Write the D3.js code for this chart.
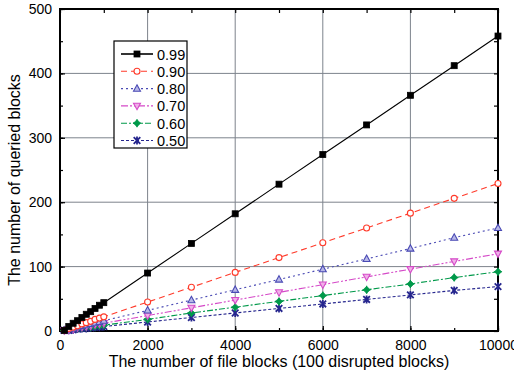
<!DOCTYPE html>
<html>
<head>
<meta charset="utf-8">
<script src="https://cdn.jsdelivr.net/npm/d3@7"></script>
<style>
  body { margin: 0; background: #fff; }
  svg { display: block; font-family: Arial, "Liberation Sans", sans-serif; }
</style>
</head>
<body>
<div id="chart"></div>
<script>
// file blocks (x)
const fileBlocks = [100, 200, 300, 400, 500, 600, 700, 800, 900, 1000,
  2000, 3000, 4000, 5000, 6000, 7000, 8000, 9000, 10000];

// queried blocks per detection probability
const p99 = [1, 7, 12, 16, 21, 26, 30, 35, 40, 44, 90, 136, 182, 228, 274, 320, 366, 412, 458];
const p90 = [1, 4, 6, 8, 11, 13, 15, 18, 20, 22, 45, 68, 91, 114, 137, 160, 183, 206, 229];
const p80 = [1, 3, 4, 6, 8, 9, 11, 13, 14, 16, 32, 48, 64, 80, 96, 112, 128, 145, 160];
const p70 = [1, 2, 3, 5, 6, 7, 8, 10, 11, 12, 24, 36, 48, 60, 72, 84, 96, 108, 120];
const p60 = [1, 2, 3, 4, 5, 6, 6, 7, 8, 9, 18, 28, 37, 46, 55, 64, 73, 83, 92];
const p50 = [1, 1, 2, 3, 4, 4, 5, 6, 6, 7, 14, 21, 28, 35, 42, 49, 56, 63, 69];

const seriesNames = ["0.99", "0.90", "0.80", "0.70", "0.60", "0.50"];
const seriesValues = [p99, p90, p80, p70, p60, p50];

const xTicks = [0, 2000, 4000, 6000, 8000, 10000];
const yTicks = [0, 100, 200, 300, 400, 500];

const styles = [
  { color: "#000000", dash: null, marker: "square", fill: "#000000" },
  { color: "#ff3a2a", dash: "6,4", marker: "circle", fill: "#ffffff" },
  { color: "#4a4ab4", dash: "2,3", marker: "triangle", fill: "#b8b8e8" },
  { color: "#d54ac8", dash: "7,2,2,2,2,2", marker: "triangleDown", fill: "#f0b0e8" },
  { color: "#00994a", dash: "6,2,2,2", marker: "diamond", fill: "#00994a" },
  { color: "#26268e", dash: "3,2", marker: "cross", fill: "#26268e" }
];

const width = 514, height = 377;
const margin = { top: 9, right: 16, bottom: 46, left: 60 };
const innerWidth = width - margin.left - margin.right;
const innerHeight = height - margin.top - margin.bottom;

const svg = d3.select("#chart").append("svg")
  .attr("width", width)
  .attr("height", height);

const g = svg.append("g")
  .attr("transform", `translate(${margin.left},${margin.top})`);

const x = d3.scaleLinear().domain([0, 10000]).range([0, innerWidth]);
const y = d3.scaleLinear().domain([0, 500]).range([innerHeight, 0]);

// grid
g.append("g").selectAll("line")
  .data(xTicks.slice(1, -1))
  .enter().append("line")
  .attr("x1", d => x(d)).attr("x2", d => x(d))
  .attr("y1", 0).attr("y2", innerHeight)
  .attr("stroke", "#7d838c").attr("stroke-width", 1);

g.append("g").selectAll("line")
  .data(yTicks.slice(1, -1))
  .enter().append("line")
  .attr("x1", 0).attr("x2", innerWidth)
  .attr("y1", d => y(d)).attr("y2", d => y(d))
  .attr("stroke", "#7d838c").attr("stroke-width", 1);

// axes with inward ticks
function styleAxis(sel) {
  sel.select(".domain").remove();
  sel.selectAll("line").attr("stroke", "#000").attr("stroke-width", 1.2);
  sel.selectAll("text").attr("font-size", 14).attr("fill", "#000")
    .attr("font-family", "Arial, 'Liberation Sans', sans-serif");
}

// minor / mirrored ticks only, no labels
function tickOnly(sel) {
  styleAxis(sel);
  sel.selectAll("text").remove();
}

const xMinor = d3.range(0, 10001, 1000);
const yMinor = d3.range(0, 501, 50);

const xAxis = g.append("g")
  .attr("transform", `translate(0,${innerHeight})`)
  .call(d3.axisBottom(x).tickValues(xTicks).tickFormat(d3.format("d"))
    .tickSizeInner(-5).tickSizeOuter(0).tickPadding(9));
styleAxis(xAxis);

g.append("g")
  .attr("transform", `translate(0,${innerHeight})`)
  .call(d3.axisBottom(x).tickValues(xMinor).tickSizeInner(-3).tickSizeOuter(0))
  .call(tickOnly);

const yAxis = g.append("g")
  .call(d3.axisLeft(y).tickValues(yTicks).tickSizeInner(-5).tickSizeOuter(0).tickPadding(8));
styleAxis(yAxis);

g.append("g")
  .call(d3.axisLeft(y).tickValues(yMinor).tickSizeInner(-3).tickSizeOuter(0))
  .call(tickOnly);

g.append("g")
  .call(d3.axisTop(x).tickValues(xMinor).tickSizeInner(-4).tickSizeOuter(0))
  .call(tickOnly);

g.append("g")
  .attr("transform", `translate(${innerWidth},0)`)
  .call(d3.axisRight(y).tickValues(yMinor).tickSizeInner(-4).tickSizeOuter(0))
  .call(tickOnly);

// frame
g.append("rect")
  .attr("x", 0).attr("y", 0)
  .attr("width", innerWidth).attr("height", innerHeight)
  .attr("fill", "none").attr("stroke", "#000").attr("stroke-width", 2);

// markers
function drawMarker(sel, type, color, fill) {
  const s = 3;
  if (type === "square") {
    sel.append("rect").attr("x", -s).attr("y", -s).attr("width", 2 * s).attr("height", 2 * s)
      .attr("fill", fill).attr("stroke", color).attr("stroke-width", 0.8);
  } else if (type === "circle") {
    sel.append("circle").attr("r", 3).attr("fill", fill).attr("stroke", color).attr("stroke-width", 1.1);
  } else if (type === "triangle") {
    sel.append("path").attr("d", "M0,-3.8L3.5,2.6L-3.5,2.6Z")
      .attr("fill", fill).attr("stroke", color).attr("stroke-width", 1.1);
  } else if (type === "triangleDown") {
    sel.append("path").attr("d", "M0,3.8L3.5,-2.6L-3.5,-2.6Z")
      .attr("fill", fill).attr("stroke", color).attr("stroke-width", 1.1);
  } else if (type === "diamond") {
    sel.append("path").attr("d", "M0,-3.5L3.5,0L0,3.5L-3.5,0Z")
      .attr("fill", fill).attr("stroke", color).attr("stroke-width", 0.8);
    sel.append("path").attr("d", "M-4,0L4,0M0,-4L0,4").attr("stroke", color).attr("stroke-width", 1.2);
  } else if (type === "cross") {
    sel.append("path").attr("d", "M-3.3,-3.3L3.3,3.3M-3.3,3.3L3.3,-3.3M0,-4L0,4")
      .attr("stroke", color).attr("stroke-width", 1.8);
  }
}

const line = d3.line()
  .x(d => x(d[0]))
  .y(d => y(d[1]));

const plot = g.append("g");

// draw lowest first so 0.99 is on top
for (let i = seriesValues.length - 1; i >= 0; i--) {
  const st = styles[i];
  const pts = fileBlocks.map((f, j) => [f, seriesValues[i][j]]);
  plot.append("path")
    .datum(pts)
    .attr("fill", "none")
    .attr("stroke", st.color)
    .attr("stroke-width", 1.1)
    .attr("stroke-dasharray", st.dash)
    .attr("d", line);
  plot.selectAll(null)
    .data(pts)
    .enter().append("g")
    .attr("transform", d => `translate(${x(d[0])},${y(d[1])})`)
    .each(function() { drawMarker(d3.select(this), st.marker, st.color, st.fill); });
}

// legend
const legend = svg.append("g").attr("transform", "translate(114,41)");
legend.append("rect")
  .attr("width", 73).attr("height", 107)
  .attr("fill", "#fff").attr("stroke", "#000").attr("stroke-width", 1.2);

seriesNames.forEach((name, i) => {
  const st = styles[i];
  const row = legend.append("g").attr("transform", `translate(0,${13 + i * 17.3})`);
  row.append("line")
    .attr("x1", 7).attr("x2", 39)
    .attr("stroke", st.color).attr("stroke-width", i === 0 ? 1.6 : 1.1)
    .attr("stroke-dasharray", st.dash);
  const m = row.append("g").attr("transform", "translate(23,0)");
  drawMarker(m, st.marker, st.color, st.fill);
  row.append("text")
    .attr("x", 43).attr("y", 5.5)
    .attr("font-size", 14.5)
    .text(name);
});

// axis titles
svg.append("text")
  .attr("x", 279)
  .attr("y", 367)
  .attr("text-anchor", "middle")
  .attr("font-size", 16)
  .text("The number of file blocks (100 disrupted blocks)");

svg.append("text")
  .attr("transform", "translate(20,180) rotate(-90)")
  .attr("text-anchor", "middle")
  .attr("font-size", 16)
  .text("The number of queried blocks");
</script>
</body>
</html>
